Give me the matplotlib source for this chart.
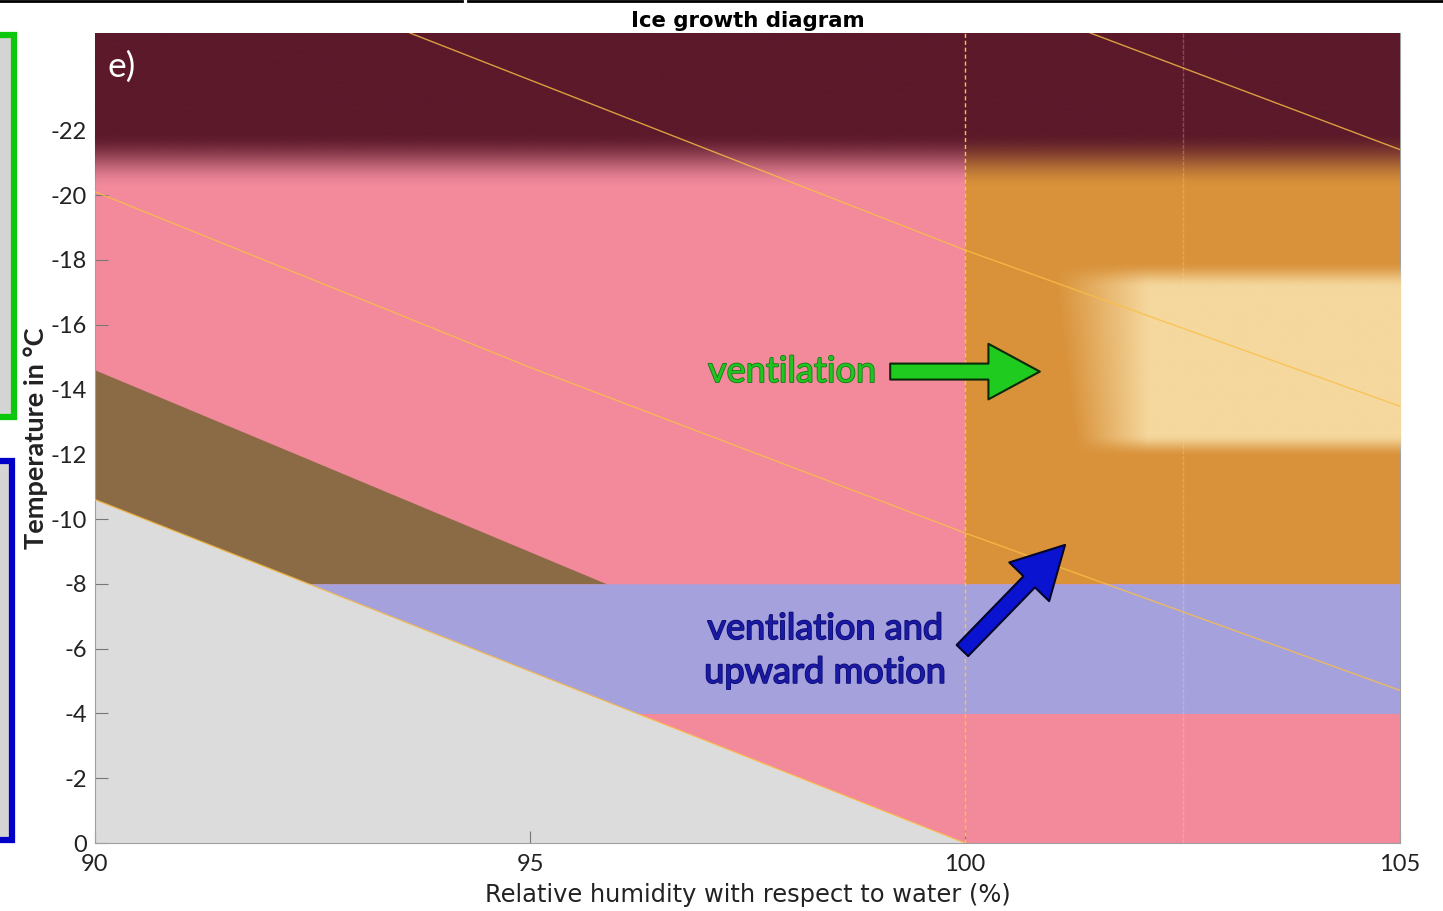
"""Ice growth diagram (panel e): growth regimes over RH_w and temperature."""

import matplotlib
matplotlib.use("Agg")
import matplotlib.pyplot as plt
import matplotlib.patheffects as pe
from matplotlib.patches import Rectangle, ArrowStyle
from matplotlib.lines import Line2D
import numpy as np

# ---------------------------------------------------------------------------
# data
# ---------------------------------------------------------------------------
RH_MIN, RH_MAX = 90.0, 105.0
T_WARM, T_COLD = 0.0, -25.0
RH_WATER_SAT = 100.0

# ice saturation line (RH_w, T)
ICE_RH = [90.0, 100.0]
ICE_T = [-10.6, 0.0]
# upper edge of the brown wedge
BROWN_RH = [90.0, 95.88]
BROWN_T = [-14.6, -8.0]
# blue band (ventilation + upward motion)
BLUE_T = [-8.0, -4.0]
# maroon cap, transition temperatures
CAP_T = [-20.2, -21.9]
# light tan box (dendrites)
TAN_RH_INNER = [102.1, 105.0]
TAN_T_INNER = [-17.1, -12.6]
TAN_T_OUTER = [-17.95, -11.9]
TAN_LEFT_T = [-17.95, -11.9]
TAN_LEFT_RH = [101.0, 101.28]

# thin orange isolines
LINE_A_RH = [90.0, 95.0, 100.0, 105.0]
LINE_A_T = [-20.1, -14.68, -9.57, -4.71]
LINE_B_RH = [93.62, 100.0, 105.0]
LINE_B_T = [-25.0, -18.3, -13.48]
LINE_C_RH = [101.44, 105.0]
LINE_C_T = [-25.0, -21.4]
VLINE_RH = 102.5

YTICKS = [0, -2, -4, -6, -8, -10, -12, -14, -16, -18, -20, -22]
YTICKLABELS = ["0", "-2", "-4", "-6", "-8", "-10", "-12", "-14", "-16", "-18", "-20", "-22"]
XTICKS = [90, 95, 100, 105]
XTICKLABELS = ["90", "95", "100", "105"]

GREEN_ARROW = [(99.14, -14.55), (100.86, -14.55)]   # tail, tip
BLUE_ARROW = [(99.97, -5.94), (101.15, -9.2)]

GRAY = "#dcdcdc"
PINK = "#f28a9c"
BROWN = "#8b6b46"
BLUE = "#a5a1dd"
ORANGE = "#d9923a"
MAROON = "#5b192a"
TAN = "#f5d89e"
LINE_COL = "#fbbf45"


def smoothstep(x):
    x = np.clip(x, 0, 1)
    return x * x * (3 - 2 * x)


def ice_rh(t):
    return np.interp(t, ICE_T, ICE_RH)


fig = plt.figure(figsize=(14.43, 9.11), dpi=100)
ax = fig.add_axes([95 / 1443, 68 / 911, 1305 / 1443, 810 / 911])

# --- regions ---------------------------------------------------------------
t_all = np.linspace(T_COLD, T_WARM, 501)
ax.fill_betweenx(t_all, np.maximum(RH_MIN, ice_rh(t_all)), RH_MAX,
                 color=PINK, lw=0, zorder=1)
t_ice = np.linspace(ICE_T[0], T_WARM, 201)
ax.fill_betweenx(t_ice, RH_MIN, ice_rh(t_ice), color=GRAY, lw=0, zorder=1)

t_br = np.linspace(BROWN_T[0], BROWN_T[1], 201)
ax.fill_betweenx(t_br, np.maximum(RH_MIN, ice_rh(t_br)),
                 np.interp(t_br, BROWN_T, BROWN_RH), color=BROWN, lw=0, zorder=2)

t_bl = np.linspace(BLUE_T[0], BLUE_T[1], 101)
ax.fill_betweenx(t_bl, ice_rh(t_bl), RH_MAX, color=BLUE, lw=0, zorder=2)

ax.fill_between([RH_WATER_SAT, RH_MAX], BLUE_T[0], T_COLD, color=ORANGE, lw=0, zorder=2)

# maroon cap with soft transition
t_cap = np.linspace(-19.5, T_COLD, 300)
cap = np.zeros((t_cap.size, 1, 4))
cap[..., :3] = matplotlib.colors.to_rgb(MAROON)
cap[:, 0, 3] = smoothstep((CAP_T[0] - t_cap) / (CAP_T[0] - CAP_T[1]))
ax.imshow(cap, extent=[RH_MIN, RH_MAX, -19.5, T_COLD], origin="lower",
          aspect="auto", interpolation="bilinear", zorder=3)

# tan box with blurred edges
rh_g = np.linspace(100.8, RH_MAX, 420)
t_g = np.linspace(-18.5, -11.5, 300)
RHg, Tg = np.meshgrid(rh_g, t_g)
left = np.interp(Tg, TAN_LEFT_T, TAN_LEFT_RH)
a_x = np.clip((RHg - left) / (TAN_RH_INNER[0] - left), 0, 1)
a_top = smoothstep((Tg - TAN_T_OUTER[0]) / (TAN_T_INNER[0] - TAN_T_OUTER[0]))
a_bot = smoothstep((TAN_T_OUTER[1] - Tg) / (TAN_T_OUTER[1] - TAN_T_INNER[1]))
tan = np.zeros(RHg.shape + (4,))
tan[..., :3] = matplotlib.colors.to_rgb(TAN)
tan[..., 3] = a_x * a_top * a_bot
ax.imshow(tan, extent=[100.8, RH_MAX, -18.5, -11.5], origin="lower",
          aspect="auto", interpolation="bilinear", zorder=3)

# --- lines -----------------------------------------------------------------
for xs, ys in [(ICE_RH, ICE_T), (LINE_A_RH, LINE_A_T),
               (LINE_B_RH, LINE_B_T), (LINE_C_RH, LINE_C_T)]:
    ax.plot(xs, ys, color=LINE_COL, lw=1.0, alpha=0.8, zorder=4)
ax.axvline(RH_WATER_SAT, color="#f6c640", lw=1.0, ls=(0, (3, 2)), zorder=4)
ax.axvline(VLINE_RH, color="#ffd8b0", lw=1.0, alpha=0.28, ls=(0, (3, 1)), zorder=4)

# --- annotations -----------------------------------------------------------
simple = ArrowStyle.Simple(head_length=3.7, head_width=4.0, tail_width=1.15)
ax.annotate("", xy=GREEN_ARROW[1], xytext=GREEN_ARROW[0], zorder=6,
            arrowprops=dict(arrowstyle=simple, mutation_scale=10, fc="#1ecb1e",
                            ec="#0a2a0a", lw=1.5, shrinkA=0, shrinkB=0))
ax.annotate("", xy=BLUE_ARROW[1], xytext=BLUE_ARROW[0], zorder=6,
            arrowprops=dict(arrowstyle=simple, mutation_scale=10, fc="#0a14d0",
                            ec="#05052a", lw=1.5, shrinkA=0, shrinkB=0))

ax.text(98.01, -14.55, "ventilation", family="Lato", fontsize=26, color="#22c422",
        ha="center", va="center", zorder=6,
        path_effects=[pe.withStroke(linewidth=1.2, foreground="#137a13")])
ax.text(98.39, -5.94, "ventilation and\nupward motion", family="Lato", fontsize=26,
        color="#1a1aa6", ha="center", va="center", linespacing=1.4, zorder=6,
        path_effects=[pe.withStroke(linewidth=1.2, foreground="#0c0c70")])
ax.text(90.14, -23.95, "e)", family="Lato", fontsize=25.5, color="white",
        ha="left", va="center", zorder=6)

# --- axes ------------------------------------------------------------------
ax.set_xlim(RH_MIN, RH_MAX)
ax.set_ylim(T_WARM, T_COLD)
ax.set_xticks(XTICKS)
ax.set_xticklabels(XTICKLABELS, family="Lato", fontsize=17, color="#222222")
ax.set_yticks(YTICKS)
ax.set_yticklabels(YTICKLABELS, family="Lato", fontsize=17, color="#222222")
ax.tick_params(direction="in", length=9, width=0.8, color="#777777", zorder=5)
ax.tick_params(axis="x", pad=8)
ax.tick_params(axis="y", pad=6)
for side in ["left", "bottom", "right"]:
    ax.spines[side].set_color("#a0a0a0")
    ax.spines[side].set_linewidth(0.8)
ax.spines["top"].set_visible(False)

ax.set_xlabel("Relative humidity with respect to water (%)", fontsize=17.4,
              color="#222222", labelpad=6)
ax.set_ylabel("Temperature in °C", family="Lato", fontweight="bold", fontsize=19.5,
              color="#222222", labelpad=1.5)
ax.set_title("Ice growth diagram", fontsize=15.3, fontweight="bold", pad=4.5)

# cropped pieces of the neighbouring panel
fig.patches.append(Rectangle((-20 / 1443, 494 / 911), 33.5 / 1443, 382 / 911,
                             transform=fig.transFigure, fc="#d4d4d4",
                             ec="#0cc80c", lw=4.5))
fig.patches.append(Rectangle((-20 / 1443, 71 / 911), 32 / 1443, 379 / 911,
                             transform=fig.transFigure, fc="#d4d4d4",
                             ec="#0000c8", lw=4.5))
fig.lines.append(Line2D([0, 462 / 1443], [0.999, 0.999], transform=fig.transFigure,
                        color="black", lw=2))
fig.lines.append(Line2D([468 / 1443, 1], [0.999, 0.999], transform=fig.transFigure,
                        color="black", lw=2))

fig.savefig("out.png", dpi=100, facecolor="white")
